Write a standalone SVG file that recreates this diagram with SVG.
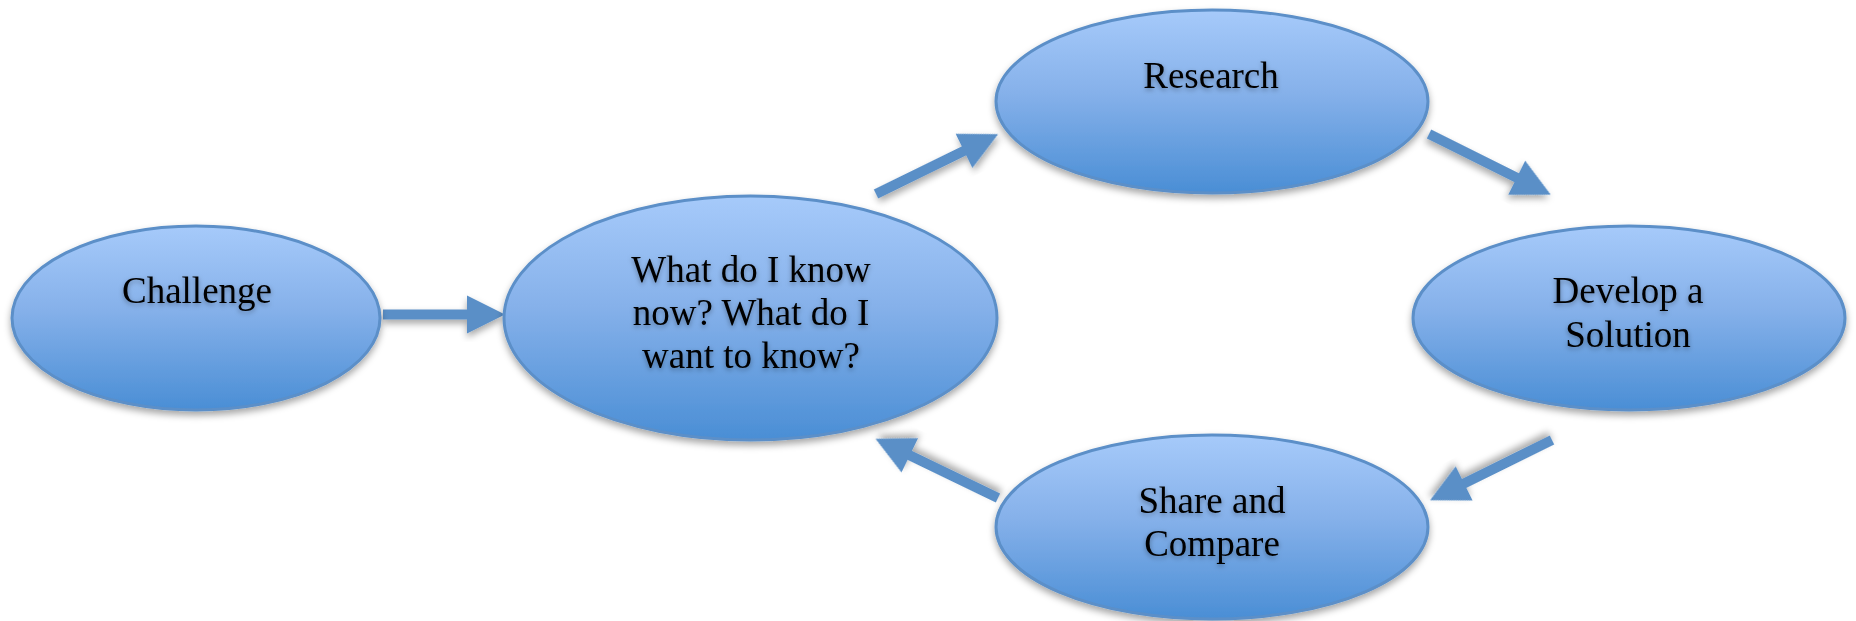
<svg xmlns="http://www.w3.org/2000/svg" width="1856" height="621" viewBox="0 0 1856 621">
<defs>
<linearGradient id="fillGrad" x1="0" y1="0" x2="0" y2="1">
<stop offset="0" stop-color="#a6cafa"/>
<stop offset="0.45" stop-color="#86b1ea"/>
<stop offset="1" stop-color="#4a8ed5"/>
</linearGradient>
<filter id="shadow" x="-10%" y="-10%" width="120%" height="130%">
<feDropShadow dx="0" dy="4" stdDeviation="3.5" flood-color="#000" flood-opacity="0.35"/>
</filter>
<filter id="textShadow" x="-10%" y="-20%" width="120%" height="150%">
<feDropShadow dx="0" dy="2" stdDeviation="2.5" flood-color="#000" flood-opacity="0.35"/>
</filter>
<polygon id="arrowLong" points="0,-5 98,-5 98,-19 136,0 98,19 98,5 0,5"/>
</defs>
<style>
.node ellipse { fill: url(#fillGrad); stroke: #5b8fc8; stroke-width: 3; filter: url(#shadow); }
.node text { font-family: "Liberation Serif", "Times New Roman", serif; font-size: 37px; fill: #000; text-anchor: middle; filter: url(#textShadow); }
.arrow { fill: #5a8fc7; filter: url(#shadow); }
</style>
<g id="connectors">
<polygon class="arrow" points="383,309.5 467,309.5 467,295.5 505,314.5 467,333.5 467,319.5 383,319.5"/>
<use class="arrow" href="#arrowLong" transform="translate(876,194) rotate(-26.1)"/>
<use class="arrow" href="#arrowLong" transform="translate(1429,134) rotate(26.5)"/>
<use class="arrow" href="#arrowLong" transform="translate(1552,440) rotate(153.7)"/>
<use class="arrow" href="#arrowLong" transform="translate(998,498) rotate(205.8)"/>
</g>
<g id="node-challenge" class="node">
<ellipse cx="196" cy="318" rx="184" ry="92"/>
<text x="197" y="303">Challenge</text>
</g>
<g id="node-know" class="node">
<ellipse cx="750.5" cy="318" rx="246.5" ry="122"/>
<text x="751" y="282">What do I know</text>
<text x="751" y="325">now? What do I</text>
<text x="751" y="368">want to know?</text>
</g>
<g id="node-research" class="node">
<ellipse cx="1212" cy="101.5" rx="216" ry="91.5"/>
<text x="1211" y="88">Research</text>
</g>
<g id="node-develop" class="node">
<ellipse cx="1629" cy="318" rx="216" ry="92"/>
<text x="1628" y="303">Develop a</text>
<text x="1628" y="347">Solution</text>
</g>
<g id="node-share" class="node">
<ellipse cx="1212" cy="527" rx="216" ry="92"/>
<text x="1212" y="513">Share and</text>
<text x="1212" y="556">Compare</text>
</g>
</svg>
